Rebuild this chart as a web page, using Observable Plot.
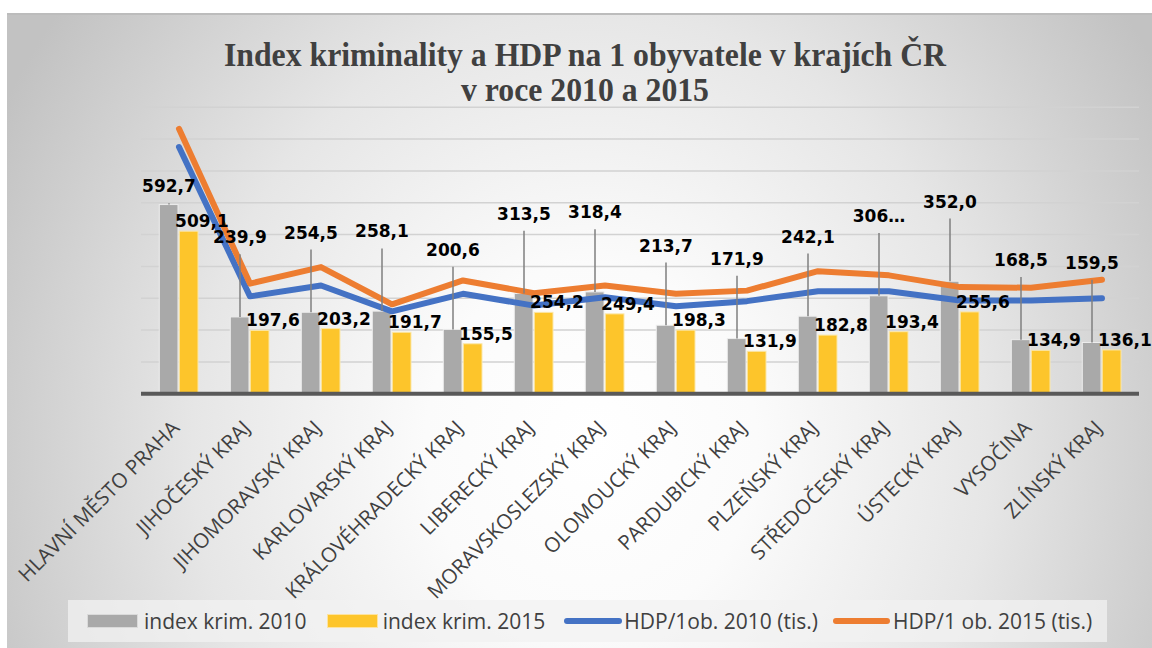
<!DOCTYPE html>
<html>
<head>
<meta charset="utf-8">
<script src="https://cdn.jsdelivr.net/npm/d3@7"></script>
<script src="https://cdn.jsdelivr.net/npm/@observablehq/plot@0.6"></script>
<style>
  html, body { margin: 0; padding: 0; background: #ffffff; }
  #wrap { position: relative; width: 1152px; height: 648px; overflow: hidden; background: #ffffff; }
  #bg { position: absolute; left: 7px; top: 13px; width: 1145px; height: 635px; box-sizing: border-box;
        border-top: 2px solid #bcbcbc;
        background: radial-gradient(ellipse 58% 115% at 51% 68%, #ffffff 0%, #fbfbfb 25%, #e6e6e6 60%, #c2c2c2 100%); }
  .title { position: absolute; left: 0; width: 1170px; text-align: center;
           font-family: "Liberation Serif", serif; font-weight: bold; font-size: 34.5px; line-height: 35px;
           color: #404040; transform: scaleX(0.92); transform-origin: 585px 0; white-space: nowrap; }
  #t1 { top: 37px; }
  #t2 { top: 72px; }
  #chart { position: absolute; left: 0; top: 100px; }
  #legend { position: absolute; left: 68px; top: 600px; width: 1039px; height: 42px; box-sizing: border-box;
            background: rgba(242,242,242,0.75); display: flex; align-items: center; padding-left: 19px;
            font-family: "Open Sans", sans-serif; font-size: 21px; color: #404040; white-space: nowrap; }
  .sw { display: inline-block; width: 51px; height: 14px; box-sizing: border-box; border: 1px solid #e0e0e0; }
  .ln { display: inline-block; height: 6px; border-radius: 3px; }
</style>
</head>
<body>
<div id="wrap">
  <div id="bg"></div>
  <div class="title" id="t1">Index kriminality a HDP na 1 obyvatele v krajích ČR</div>
  <div class="title" id="t2">v roce 2010 a 2015</div>
  <div id="chart"></div>
  <div id="legend"></div>
</div>
<script>
// ---- data ----
const regions = ["HLAVNÍ MĚSTO PRAHA","JIHOČESKÝ KRAJ","JIHOMORAVSKÝ KRAJ","KARLOVARSKÝ KRAJ","KRÁLOVÉHRADECKÝ KRAJ","LIBERECKÝ KRAJ","MORAVSKOSLEZSKÝ KRAJ","OLOMOUCKÝ KRAJ","PARDUBICKÝ KRAJ","PLZEŇSKÝ KRAJ","STŘEDOČESKÝ KRAJ","ÚSTECKÝ KRAJ","VYSOČINA","ZLÍNSKÝ KRAJ"];
const krim2010 = [592.7, 239.9, 254.5, 258.1, 200.6, 313.5, 318.4, 213.7, 171.9, 242.1, 306.2, 352.0, 168.5, 159.5];
const krim2010Labels = ["592,7","239,9","254,5","258,1","200,6","313,5","318,4","213,7","171,9","242,1","306…","352,0","168,5","159,5"];
const krim2015 = [509.1, 197.6, 203.2, 191.7, 155.5, 254.2, 249.4, 198.3, 131.9, 182.8, 193.4, 255.6, 134.9, 136.1];
const hdp2010 = [775, 306, 340, 259, 314, 277, 303, 275, 291, 322, 322, 293, 293, 300];
const hdp2015 = [832, 346, 398, 281, 356, 316, 340, 314, 324, 385, 372, 335, 333, 358];
const seriesNames = ["index krim. 2010", "index krim. 2015", "HDP/1ob. 2010 (tis.)", "HDP/1 ob. 2015 (tis.)"];
const seriesColors = ["#a9a9a9", "#fdc52b", "#4472c4", "#ed7d31"];
const yGrid = d3.range(100, 901, 100);

const fmt = v => v.toFixed(1).replace(".", ",");
const rows = regions.map((r, i) => ({
  region: r, k10: krim2010[i], k10label: krim2010Labels[i], k15: krim2015[i], h10: hdp2010[i], h15: hdp2015[i]
}));
// label placement rule for the 2010 labels (lifted above the bars)
const labelPos = d => d.k10 >= 500 ? d.k10 + 57 : d.k10 + 250;

const chart = Plot.plot({
  width: 1152,
  height: 500,
  marginTop: 6.7,
  marginBottom: 206.7,
  marginLeft: 141,
  marginRight: 13,
  style: { background: "transparent", fontFamily: "'Open Sans', sans-serif", overflow: "visible" },
  x: { type: "band", domain: regions, padding: 0, label: null },
  y: { domain: [0, 900], axis: null },
  marks: [
    Plot.ruleY(yGrid, { stroke: "#d2d2d2", strokeWidth: 1.5 }),
    Plot.barY(rows, { x: "region", y: "k10", fill: seriesColors[0], stroke: "#ededed", strokeWidth: 1, insetLeft: 16.3, insetRight: 36 }),
    Plot.barY(rows, { x: "region", y: "k15", fill: seriesColors[1], stroke: "#fbe7a8", strokeWidth: 1, insetLeft: 36.3, insetRight: 16 }),
    Plot.line(rows, { x: "region", y: "h10", stroke: seriesColors[2], strokeWidth: 6, strokeLinejoin: "round", strokeLinecap: "round" }),
    Plot.line(rows, { x: "region", y: "h15", stroke: seriesColors[3], strokeWidth: 6, strokeLinejoin: "round", strokeLinecap: "round" }),
    Plot.ruleY([0], { stroke: "#595959", strokeWidth: 4 }),
    Plot.ruleX(rows.filter(d => labelPos(d) - 53 > d.k10), { x: "region", y1: "k10", y2: d => labelPos(d) - 53, dx: -10, stroke: "#7f7f7f", strokeWidth: 1.5 }),
    Plot.text(rows, { x: "region", y: labelPos, text: "k10label", dx: -10, fill: "#000", fontFamily: "'DejaVu Sans', sans-serif", fontWeight: "bold", fontSize: 17 }),
    Plot.text(rows, { x: "region", y: "k15", text: d => fmt(d.k15), dx: 23, dy: -10, fill: "#000", fontFamily: "'DejaVu Sans', sans-serif", fontWeight: "bold", fontSize: 17 }),
    Plot.axisX({ tickRotate: -45, tickSize: 0, tickPadding: 31, dx: -3, fontSize: 20.5, fill: "#404040", label: null })
  ]
});
document.getElementById("chart").appendChild(chart);

// legend
const legend = document.getElementById("legend");
const items = [
  { type: "sw", color: seriesColors[0], border: "#dadada", gapAfter: 6, w: 51 },
  { type: "sw", color: seriesColors[1], border: "#fde3a0", gapAfter: 5, w: 51 },
  { type: "ln", color: seriesColors[2], gapAfter: 2, w: 58 },
  { type: "ln", color: seriesColors[3], gapAfter: 3, w: 57 }
];
const itemGaps = [20, 19, 15, 0];
items.forEach((it, i) => {
  const s = document.createElement("span");
  s.className = it.type;
  s.style.background = it.color;
  s.style.width = it.w + "px";
  if (it.border) s.style.border = "1px solid " + it.border;
  s.style.marginRight = it.gapAfter + "px";
  legend.appendChild(s);
  const t = document.createElement("span");
  t.textContent = seriesNames[i];
  t.style.marginRight = itemGaps[i] + "px";
  legend.appendChild(t);
});
</script>
</body>
</html>
